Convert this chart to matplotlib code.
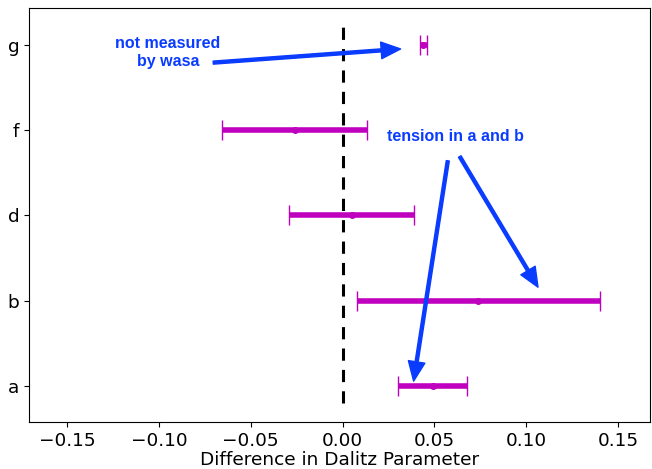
import matplotlib
matplotlib.use("Agg")
import matplotlib.pyplot as plt

categories = ["a", "b", "d", "f", "g"]
diffs = [0.049, 0.074, 0.005, -0.026, 0.044]
errors = [0.019, 0.066, 0.034, 0.0395, 0.002]

fig = plt.figure(figsize=(6.52, 4.69), dpi=100)
ax = fig.add_axes([0.0445, 0.1, 0.9525, 0.883])

ypos = list(range(len(categories)))
_, caps, _ = ax.errorbar(diffs, ypos, xerr=errors, fmt="o", color="#BF00BF", ecolor="#BF00BF",
                         elinewidth=4, markersize=4, capsize=7, capthick=1.0, zorder=3)
for c in caps:
    c.set_color("#DA55DA")
ax.vlines(0, -0.2, 4.22, colors="black", linestyles=(0, (4, 3)), linewidth=2.2, zorder=2)

ax.set_yticks(ypos)
ax.set_yticklabels(categories)
ax.set_xticks([-0.15, -0.10, -0.05, 0.0, 0.05, 0.10, 0.15])
ax.set_xlim(-0.1707, 0.1674)
ax.set_ylim(-0.42, 4.43)
ax.tick_params(labelsize=13.3)
ax.set_xlabel("Difference in Dalitz Parameter", fontsize=13.3, labelpad=0.5)

blue = "#0A3CFF"
aprops = dict(facecolor=blue, edgecolor=blue, width=2.2, headwidth=12, headlength=14, shrink=0)
tfont = dict(family="Liberation Sans", weight="bold", size=11.5, color=blue)

ax.annotate("", xy=(0.0316, 3.95), xytext=(-0.0704, 3.79), arrowprops=aprops)
ax.text(-0.095, 3.91, "not measured\nby wasa", ha="center", va="center",
        multialignment="center", **tfont)

ax.text(0.0612, 2.93, "tension in a and b", ha="center", va="center", **tfont)
ax.annotate("", xy=(0.0387, 0.06), xytext=(0.0573, 2.64), arrowprops=aprops)
ax.annotate("", xy=(0.1064, 1.16), xytext=(0.0638, 2.69), arrowprops=aprops)

fig.savefig("out.png", dpi=100)
